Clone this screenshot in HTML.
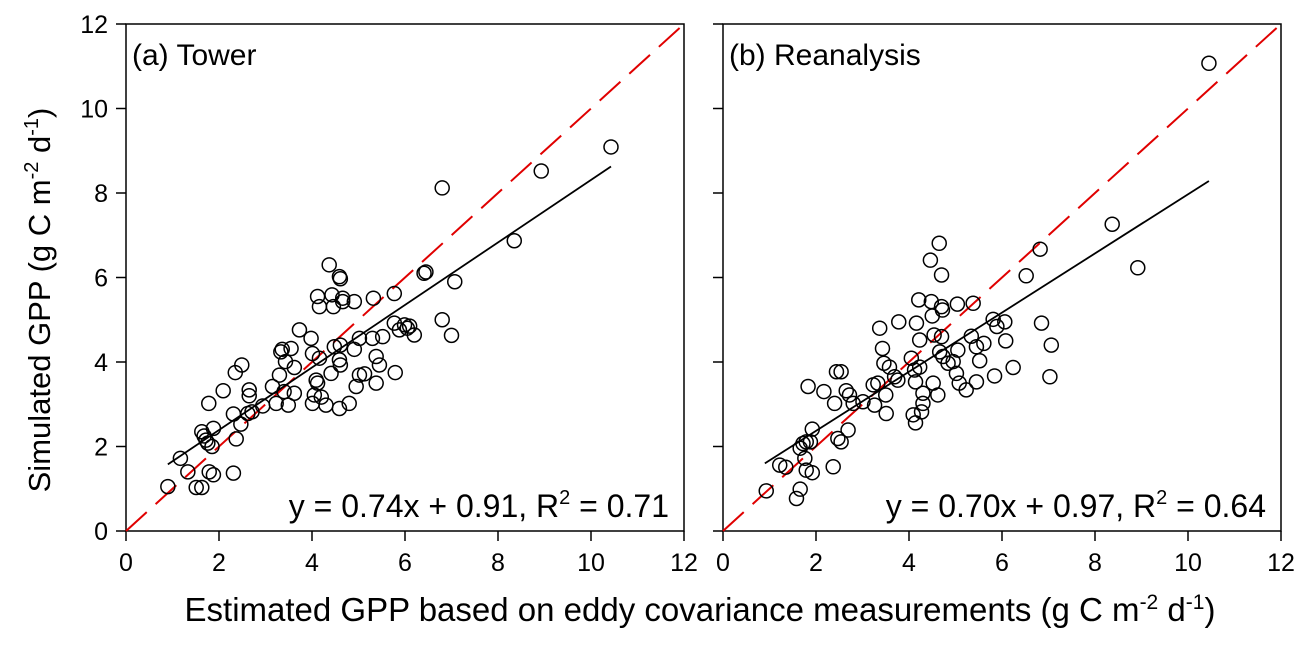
<!DOCTYPE html>
<html><head><meta charset="utf-8"><style>
body{margin:0;background:#fff}
svg text{font-family:"Liberation Sans",sans-serif;fill:#000}
</style></head><body>
<svg id="chart" width="1312" height="648" xmlns="http://www.w3.org/2000/svg"></svg>
<script>
const ticks=[0,2,4,6,8,10,12];
const towerX=[0.90,1.17,1.33,1.51,1.63,1.79,1.88,2.31,1.63,1.72,1.88,1.76,1.85,1.68,2.37,1.78,2.31,2.47,2.62,2.71,2.09,2.35,2.49,2.65,2.65,2.94,3.15,3.30,3.33,3.36,3.55,3.43,3.62,3.23,3.49,3.62,3.40,3.73,3.98,4.01,4.16,4.01,4.09,4.12,4.05,4.20,4.30,4.59,4.80,4.37,4.59,4.61,4.12,4.16,4.43,4.46,4.66,4.66,4.91,5.32,5.77,6.41,4.48,4.61,4.59,4.61,4.41,5.02,5.30,5.52,4.91,5.38,5.45,5.02,5.13,4.95,5.38,5.79,5.77,5.88,5.99,6.10,6.20,6.05,6.45,6.80,7.00,7.07,6.80,8.35,8.93,10.43];
const towerY=[1.05,1.72,1.40,1.03,1.03,1.40,1.33,1.37,2.35,2.15,2.43,2.08,2.00,2.25,2.18,3.02,2.77,2.53,2.78,2.82,3.32,3.75,3.93,3.34,3.20,2.96,3.42,3.69,4.24,4.30,4.32,4.01,3.87,3.02,2.98,3.26,3.30,4.76,4.56,4.20,4.09,3.02,3.57,3.50,3.22,3.17,2.98,2.90,3.02,6.30,6.02,5.97,5.55,5.31,5.59,5.31,5.51,5.43,5.43,5.51,5.62,6.10,4.36,4.40,4.05,3.93,3.73,4.56,4.56,4.60,4.30,4.13,3.93,3.69,3.72,3.42,3.50,3.75,4.92,4.76,4.88,4.85,4.64,4.80,6.13,5.00,4.63,5.90,8.12,6.87,8.52,9.09];
const reanX=[0.93,1.22,1.35,1.58,1.66,1.79,1.92,1.76,1.66,1.79,1.88,1.72,1.92,2.37,2.47,2.54,2.69,1.83,2.17,2.40,2.44,2.54,2.65,2.72,2.80,3.01,3.26,3.23,3.33,3.50,3.51,3.37,3.43,3.46,3.58,3.69,3.76,3.78,4.05,4.16,4.23,4.12,4.23,4.14,4.52,4.30,4.62,4.30,4.27,4.09,4.14,4.21,4.48,4.70,4.72,4.50,4.54,4.70,5.04,5.38,4.66,4.73,4.84,4.95,5.05,5.02,5.08,5.23,5.45,5.34,5.45,5.61,5.52,5.81,5.89,6.06,6.08,5.84,6.24,4.46,4.65,4.70,6.52,6.82,6.85,7.06,7.03,8.37,8.92,10.45];
const reanY=[0.95,1.56,1.51,0.77,0.99,1.44,1.38,1.72,1.96,2.11,2.11,2.07,2.41,1.52,2.19,2.11,2.39,3.42,3.30,3.02,3.77,3.77,3.32,3.22,3.02,3.06,2.98,3.46,3.50,3.22,2.78,4.80,4.32,3.97,3.88,3.65,3.57,4.95,4.09,4.92,4.52,3.81,3.88,3.53,3.50,3.26,3.22,3.02,2.82,2.75,2.56,5.47,5.43,5.31,5.23,5.09,4.64,4.60,5.37,5.39,4.24,4.13,3.97,4.01,4.28,3.73,3.50,3.34,3.53,4.61,4.36,4.44,4.03,5.01,4.84,4.95,4.50,3.67,3.87,6.41,6.81,6.06,6.04,6.67,4.92,4.40,3.65,7.26,6.23,11.07];
const fitA=[0.74,0.91], fitB=[0.70,0.97];
const fitRangeA=[0.9,10.43], fitRangeB=[0.9,10.45];

const svg=document.getElementById('chart');
const NS='http://www.w3.org/2000/svg';
function mk(tag,attrs,parent){const e=document.createElementNS(NS,tag);for(const k in attrs)e.setAttribute(k,attrs[k]);(parent||svg).appendChild(e);return e;}
const Y0=531,Y1=24;
const sy=v=>Y0+(Y1-Y0)*v/12;
function panel(px0,px1,xs,ys,fit,rng,label,eq,name,showY){
  const sx=v=>px0+(px1-px0)*v/12;
  const g=mk('g',{});
  
  
  const fr=mk('rect',{x:px0,y:Y1,width:px1-px0,height:Y0-Y1,fill:'none',stroke:'#000','stroke-width':1.5},g);
  
  
  ticks.forEach(t=>{
    const tx=mk('line',{x1:sx(t),x2:sx(t),y1:Y0,y2:Y0+10,stroke:'#000','stroke-width':1.5},g);
    
    
    const tl=mk('text',{x:sx(t),y:Y0+40,'font-size':25,'text-anchor':'middle'},g);tl.textContent=t;
    
    
    const ty=mk('line',{x1:px0-10,x2:px0,y1:sy(t),y2:sy(t),stroke:'#000','stroke-width':1.5},g);
    
    
    if(showY){const yl=mk('text',{x:px0-18,y:sy(t)+9,'font-size':25,'text-anchor':'end'},g);yl.textContent=t;
      
      }
  });
  const one=mk('line',{x1:sx(0),y1:sy(0),x2:sx(12),y2:sy(12),stroke:'#e00000','stroke-width':2,'stroke-dasharray':'28,12'},g);
  
  
  xs.forEach((x,i)=>{
    const c=mk('circle',{cx:sx(x),cy:sy(ys[i]),r:7,fill:'none',stroke:'#000','stroke-width':1.5},g);
    
    
  });
  const fl=mk('line',{x1:sx(rng[0]),y1:sy(fit[0]*rng[0]+fit[1]),x2:sx(rng[1]),y2:sy(fit[0]*rng[1]+fit[1]),stroke:'#000','stroke-width':1.8},g);
  
  
  const pl=mk('text',{x:px0+6,y:65,'font-size':30},g);pl.textContent=label;
  
  
  const e=mk('text',{x:px1-15,y:517,'font-size':32,'text-anchor':'end'},g);
  e.innerHTML=eq;
  
  
}
panel(126,684,towerX,towerY,fitA,fitRangeA,'(a) Tower','y = 0.74x + 0.91, R<tspan dy="-13" font-size="20">2</tspan><tspan dy="13"> = 0.71</tspan>','panel-tower',true);
panel(723,1281,reanX,reanY,fitB,fitRangeB,'(b) Reanalysis','y = 0.70x + 0.97, R<tspan dy="-13" font-size="20">2</tspan><tspan dy="13"> = 0.64</tspan>','panel-reanalysis',false);
const xt=mk('text',{x:700,y:621,'font-size':33,'text-anchor':'middle'});
xt.innerHTML='Estimated GPP based on eddy covariance measurements (g C m<tspan dy="-12" font-size="21">-2</tspan><tspan dy="12"> d</tspan><tspan dy="-12" font-size="21">-1</tspan><tspan dy="12">)</tspan>';


const yt=mk('text',{x:0,y:0,'font-size':31,'text-anchor':'middle',transform:'translate(50,300) rotate(-90)'});
yt.innerHTML='Simulated GPP (g C m<tspan dy="-12" font-size="20">-2</tspan><tspan dy="12"> d</tspan><tspan dy="-12" font-size="20">-1</tspan><tspan dy="12">)</tspan>';


</script>
</body></html>
